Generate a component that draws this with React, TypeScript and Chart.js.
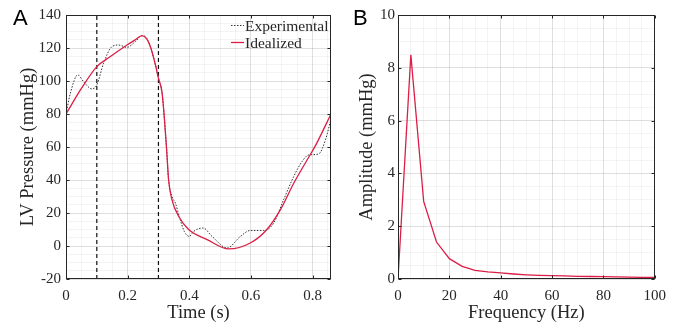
import React, { useEffect, useRef } from 'react';
import { Chart, registerables } from 'chart.js';

Chart.register(...registerables);

// ---------- Data: panel A ----------
const timeIdeal = [0, 0.05, 0.1, 0.144, 0.198, 0.225, 0.247, 0.262, 0.274, 0.29, 0.3, 0.312, 0.326, 0.333, 0.344, 0.366, 0.398, 0.458, 0.528, 0.598, 0.652, 0.696, 0.739, 0.782, 0.81, 0.86];
const pressureIdeal = [80, 95.5, 108.7, 114.8, 121.8, 125, 127.5, 125.5, 120.8, 110, 101.7, 92.5, 60, 40, 28, 17.9, 10, 3.9, -1.8, 1.8, 10, 22, 38, 52, 61, 80];

const timeExp = [0, 0.014, 0.038, 0.057, 0.084, 0.1, 0.122, 0.149, 0.171, 0.198, 0.225, 0.247, 0.257, 0.274, 0.29, 0.3, 0.312, 0.326, 0.333, 0.344, 0.355, 0.369, 0.384, 0.4, 0.414, 0.445, 0.474, 0.523, 0.566, 0.598, 0.642, 0.674, 0.706, 0.739, 0.766, 0.788, 0.82, 0.842, 0.86];
const pressureExp = [80, 92.4, 103.7, 99.6, 95.2, 97.6, 110.8, 120.8, 121.8, 120.4, 123.9, 127.5, 127, 120.8, 110, 101.7, 92.5, 60, 40, 30, 26, 17, 8.8, 5.8, 8.8, 10.9, 5.8, -1.2, 5.8, 9.4, 9.4, 13.9, 28, 42.1, 51.2, 55.2, 55.8, 64.3, 77];

const markerTimes = [0.1, 0.3];

const xTicksA = [0, 0.2, 0.4, 0.6, 0.8];
const yTicksA = [-20, 0, 20, 40, 60, 80, 100, 120, 140];

// ---------- Data: panel B ----------
const freq = [0, 5, 10, 15, 20, 25, 30, 35, 40, 45, 50, 55, 60, 65, 70, 75, 80, 85, 90, 95, 100];
const amplitude = [0, 8.49, 2.94, 1.4, 0.77, 0.48, 0.33, 0.27, 0.23, 0.19, 0.16, 0.14, 0.13, 0.115, 0.1, 0.095, 0.09, 0.08, 0.07, 0.065, 0.06];

const xTicksB = [0, 20, 40, 60, 80, 100];
const yTicksB = [0, 2, 4, 6, 8, 10];

// ---------- Styles ----------
const SERIF = '"Liberation Serif", "Times New Roman", serif';
const AXIS_COLOR = '#262626';
const RED = '#dc1e46';
const MAJOR_GRID = 'rgba(38,38,38,0.15)';
const MINOR_GRID = 'rgba(38,38,38,0.05)';

const isMajor = (v: number, majors: number[]) => majors.some((m) => Math.abs(m - v) < 1e-9);

function gridTicks(min: number, max: number, step: number) {
  const out: { value: number }[] = [];
  const n = Math.round((max - min) / step);
  for (let i = 0; i <= n; i++) {
    const v = +(min + i * step).toFixed(6);
    if (v <= max + 1e-9) out.push({ value: v });
  }
  return out;
}

function fmt(v: number) {
  return String(Math.round(v * 1000) / 1000);
}

function makeScale(opts: {
  min: number; max: number; minorStep: number; majors: number[];
  title: string; titlePad: any; fitSize: number; axis: 'x' | 'y'; tickPad: number;
}) {
  return {
    type: 'linear',
    min: opts.min,
    max: opts.max,
    afterBuildTicks: (scale: any) => {
      scale.ticks = gridTicks(opts.min, opts.max, opts.minorStep);
    },
    afterFit: (scale: any) => {
      if (opts.axis === 'x') scale.height = opts.fitSize;
      else scale.width = opts.fitSize;
    },
    grid: {
      drawTicks: false,
      color: (ctx: any) => (ctx.tick && isMajor(ctx.tick.value, opts.majors) ? MAJOR_GRID : MINOR_GRID),
      lineWidth: 1,
    },
    border: { display: false },
    ticks: {
      autoSkip: false,
      maxRotation: 0,
      padding: opts.tickPad,
      color: AXIS_COLOR,
      font: { family: SERIF, size: 15 },
      callback: (v: any) => (isMajor(Number(v), opts.majors) ? fmt(Number(v)) : ''),
    },
    title: {
      display: true,
      text: opts.title,
      color: AXIS_COLOR,
      font: { family: SERIF, size: 18.5 },
      padding: opts.titlePad,
    },
  };
}

function framePlugin(xMajors: number[], yMajors: number[]) {
  return {
    id: 'frame',
    afterDraw(chart: any) {
      const { ctx, chartArea } = chart;
      const { left, right, top, bottom } = chartArea;
      const xs = chart.scales.x;
      const ys = chart.scales.y;
      const L = Math.round(left) + 0.5;
      const R = Math.round(right) - 0.5;
      const T = Math.round(top) + 0.5;
      const B = Math.round(bottom) - 0.5;
      ctx.save();
      ctx.strokeStyle = AXIS_COLOR;
      ctx.lineWidth = 1;
      ctx.setLineDash([]);
      ctx.strokeRect(L, T, R - L, B - T);
      const tl = 3;
      ctx.beginPath();
      xMajors.forEach((v) => {
        const px = Math.round(xs.getPixelForValue(v)) + 0.5;
        ctx.moveTo(px, B);
        ctx.lineTo(px, B - tl);
        ctx.moveTo(px, T);
        ctx.lineTo(px, T + tl);
      });
      yMajors.forEach((v) => {
        const py = Math.round(ys.getPixelForValue(v)) + 0.5;
        ctx.moveTo(L, py);
        ctx.lineTo(L + tl, py);
        ctx.moveTo(R, py);
        ctx.lineTo(R - tl, py);
      });
      ctx.stroke();
      ctx.restore();
    },
  };
}

const legendPlugin = {
  id: 'innerLegend',
  afterDraw(chart: any) {
    const { ctx, chartArea } = chart;
    const items = chart.data.datasets.filter((d: any) => d.showInLegend);
    items.sort((a: any, b: any) => a.legendRank - b.legendRank);
    ctx.save();
    ctx.font = `15.5px ${SERIF}`;
    ctx.textBaseline = 'middle';
    ctx.textAlign = 'left';
    items.forEach((d: any, i: number) => {
      const y = Math.round(chartArea.top + 10 + i * 17.3) + 0.5;
      const x0 = chartArea.right - 100;
      ctx.strokeStyle = d.borderColor;
      ctx.lineWidth = d.borderWidth;
      ctx.setLineDash(d.borderDash || []);
      ctx.beginPath();
      ctx.moveTo(x0, y);
      ctx.lineTo(x0 + 13, y);
      ctx.stroke();
      ctx.setLineDash([]);
      ctx.fillStyle = AXIS_COLOR;
      ctx.fillText(d.label, x0 + 14, y + 1);
    });
    ctx.restore();
  },
};

function panelLabel(text: string) {
  return {
    id: 'panelLabel',
    afterDraw(chart: any) {
      const { ctx } = chart;
      ctx.save();
      ctx.font = '22px "Liberation Sans", Arial, sans-serif';
      ctx.fillStyle = '#000';
      ctx.textBaseline = 'alphabetic';
      ctx.textAlign = 'left';
      ctx.fillText(text, 13, 25);
      ctx.restore();
    },
  };
}

function PanelA() {
  const ref = useRef<HTMLCanvasElement | null>(null);
  useEffect(() => {
    if (!ref.current) return;
    const markerSets = markerTimes.map((t) => ({
      label: 'marker',
      data: [{ x: t, y: yTicksA[0] }, { x: t, y: yTicksA[yTicksA.length - 1] }],
      borderColor: '#111',
      borderWidth: 1.2,
      borderDash: [4, 3],
      pointRadius: 0,
      order: 3,
    }));
    const chart = new Chart(ref.current, {
      type: 'line',
      data: {
        datasets: [
          {
            label: 'Idealized',
            data: timeIdeal.map((t, i) => ({ x: t, y: pressureIdeal[i] })),
            borderColor: RED,
            borderWidth: 1.3,
            pointRadius: 0,
            cubicInterpolationMode: 'monotone',
            order: 1,
            showInLegend: true,
            legendRank: 2,
          } as any,
          {
            label: 'Experimental',
            data: timeExp.map((t, i) => ({ x: t, y: pressureExp[i] })),
            borderColor: '#333',
            borderWidth: 1,
            borderDash: [1.5, 1.5],
            pointRadius: 0,
            cubicInterpolationMode: 'monotone',
            order: 2,
            showInLegend: true,
            legendRank: 1,
          } as any,
          ...markerSets,
        ],
      },
      options: {
        animation: false,
        responsive: false,
        events: [],
        layout: { padding: { top: 15, right: 9, left: 0, bottom: 0 } },
        plugins: { legend: { display: false }, tooltip: { enabled: false } },
        scales: {
          x: makeScale({ min: 0, max: 0.86, minorStep: 0.05, majors: xTicksA, title: 'Time (s)', titlePad: { top: 0, bottom: 2 }, fitSize: 47, axis: 'x', tickPad: 8 }) as any,
          y: makeScale({ min: -20, max: 140, minorStep: 5, majors: yTicksA, title: 'LV Pressure (mmHg)', titlePad: { top: 17, bottom: 0 }, fitSize: 66, axis: 'y', tickPad: 5 }) as any,
        },
      },
      plugins: [framePlugin(xTicksA, yTicksA), legendPlugin, panelLabel('A')],
    });
    return () => chart.destroy();
  }, []);
  return <canvas ref={ref} width={340} height={326} style={{ position: 'absolute', left: 0, top: 0 }} />;
}

function PanelB() {
  const ref = useRef<HTMLCanvasElement | null>(null);
  useEffect(() => {
    if (!ref.current) return;
    const chart = new Chart(ref.current, {
      type: 'line',
      data: {
        datasets: [
          {
            label: 'Amplitude',
            data: freq.map((f, i) => ({ x: f, y: amplitude[i] })),
            borderColor: RED,
            borderWidth: 1.3,
            pointRadius: 0,
            tension: 0,
          },
        ],
      },
      options: {
        animation: false,
        responsive: false,
        events: [],
        layout: { padding: { top: 15, right: 11, left: 0, bottom: 0 } },
        plugins: { legend: { display: false }, tooltip: { enabled: false } },
        scales: {
          x: makeScale({ min: 0, max: 100, minorStep: 5, majors: xTicksB, title: 'Frequency (Hz)', titlePad: { top: 0, bottom: 2 }, fitSize: 47, axis: 'x', tickPad: 8 }) as any,
          y: makeScale({ min: 0, max: 10, minorStep: 0.5, majors: yTicksB, title: 'Amplitude (mmHg)', titlePad: { top: 16, bottom: 0 }, fitSize: 58, axis: 'y', tickPad: 3 }) as any,
        },
      },
      plugins: [framePlugin(xTicksB, yTicksB), panelLabel('B')],
    });
    return () => chart.destroy();
  }, []);
  return <canvas ref={ref} width={334} height={326} style={{ position: 'absolute', left: 340, top: 0 }} />;
}

export default function App() {
  return (
    <div style={{ position: 'fixed', left: 0, top: 0, width: 674, height: 326, background: '#fff', overflow: 'hidden' }}>
      <PanelA />
      <PanelB />
    </div>
  );
}
